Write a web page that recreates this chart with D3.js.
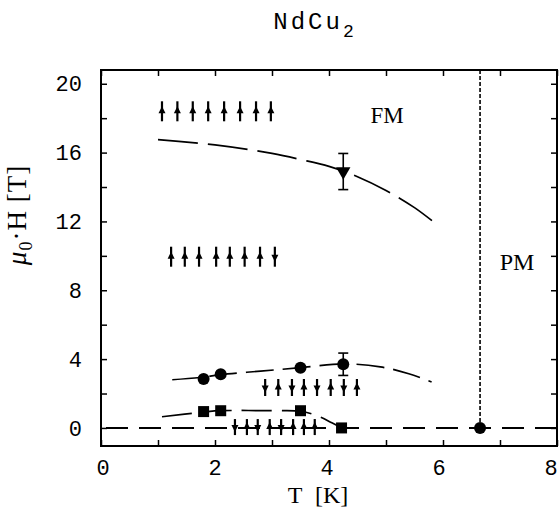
<!DOCTYPE html>
<html>
<head>
<meta charset="utf-8">
<script src="https://cdn.jsdelivr.net/npm/d3@7"></script>
<style>
body { margin: 0; background: #fff; }
svg { display: block; }
</style>
</head>
<body>
<script>
// data
var xTicks = [0, 2, 4, 6, 8];
var yTicks = [0, 4, 8, 12, 16, 20];

var triT = [4.25], triH = [14.9], triErr = [1.05];
var circT = [1.8, 2.1, 3.5, 4.25], circH = [2.85, 3.12, 3.5, 3.7], circErr = [0, 0, 0, 0.65];
var sqT = [1.8, 2.1, 3.5, 4.22], sqH = [0.95, 1.0, 1.0, 0.0];
var tcT = [6.65], tcH = [0];

var upperT = [1.0, 2.0, 3.0, 3.5, 4.0, 4.5, 5.0, 5.5, 5.9];
var upperH = [16.75, 16.45, 15.95, 15.6, 15.2, 14.6, 13.8, 12.8, 11.8];
var middleT = [1.25, 1.8, 2.1, 2.8, 3.5, 4.25, 4.9, 5.4, 5.8];
var middleH = [2.8, 2.95, 3.1, 3.3, 3.5, 3.72, 3.55, 3.15, 2.67];
var lowerT = [1.07, 1.8, 2.1, 3.0, 3.5, 3.8, 4.05, 4.22];
var lowerH = [0.65, 0.92, 1.0, 1.0, 0.97, 0.7, 0.3, 0.0];
var zeroT = [0, 8], zeroH = [0, 0];

var row1T = [1.07, 1.34, 1.61, 1.88, 2.16, 2.44, 2.72, 2.98], row1H = 18.4, row1Dir = [1,1,1,1,1,1,1,1];
var row2T = [1.23, 1.47, 1.72, 2.02, 2.26, 2.52, 2.79, 3.05], row2H = 9.95, row2Dir = [1,1,1,1,1,1,1,-1];
var row3T = [2.88, 3.11, 3.35, 3.56, 3.79, 4.03, 4.26, 4.49], row3H = 2.35, row3Dir = [-1,1,-1,1,-1,1,-1,1];
var row4T = [2.35, 2.56, 2.75, 2.96, 3.16, 3.37, 3.56, 3.75], row4H = 0.05, row4Dir = [-1,1,-1,1,-1,1,1,1];

var W = 559, H = 512;
var pL = 101, pR = 557, pT = 70, pB = 446;

var x = d3.scaleLinear().domain([0, 8]).range([pL, pR]);
var y = d3.scaleLinear().domain([-1.05, 20.8]).range([pB, pT]);

var svg = d3.select('body').append('svg')
    .attr('width', W).attr('height', H);

var serif = '"Liberation Serif", "DejaVu Serif", serif';
var mono = '"Liberation Mono", "DejaVu Sans Mono", monospace';

// frame
svg.append('rect')
    .attr('x', pL).attr('y', pT)
    .attr('width', pR - pL).attr('height', pB - pT)
    .attr('fill', 'none').attr('stroke', '#000').attr('stroke-width', 2);

// axes, ticks inward
var xMinor = d3.range(0, 8.01, 1);
var yMinor = d3.range(0, 20.01, 2);
svg.append('g').attr('transform', 'translate(0,' + pB + ')')
    .call(d3.axisBottom(x).tickValues(xMinor).tickSize(-6).tickFormat(''))
    .call(function(g){ g.select('.domain').remove(); });
svg.append('g').attr('transform', 'translate(0,' + pT + ')')
    .call(d3.axisTop(x).tickValues(xMinor).tickSize(-6).tickFormat(''))
    .call(function(g){ g.select('.domain').remove(); });
svg.append('g').attr('transform', 'translate(' + pL + ',0)')
    .call(d3.axisLeft(y).tickValues(yMinor).tickSize(-6).tickFormat(''))
    .call(function(g){ g.select('.domain').remove(); });
svg.append('g').attr('transform', 'translate(' + pR + ',0)')
    .call(d3.axisRight(y).tickValues(yMinor).tickSize(-6).tickFormat(''))
    .call(function(g){ g.select('.domain').remove(); });
svg.selectAll('.tick line').attr('stroke-width', 1.5);

// tick labels
svg.selectAll('text.xt')
    .data(xTicks)
    .enter().append('text')
    .attr('class', 'xt')
    .attr('x', function(d){ return x(d) + 2 - d; })
    .attr('y', 475)
    .attr('text-anchor', 'middle')
    .attr('font-family', mono).attr('font-size', 22)
    .text(function(d){ return d; });

svg.selectAll('text.yt')
    .data(yTicks)
    .enter().append('text')
    .attr('class', 'yt')
    .attr('x', 82)
    .attr('y', function(d){ return y(d); })
    .attr('dy', '0.35em')
    .attr('text-anchor', 'end')
    .attr('font-family', mono).attr('font-size', 22)
    .text(function(d){ return d; });

// title
var title = svg.append('text')
    .attr('x', 315).attr('y', 29)
    .attr('text-anchor', 'middle')
    .attr('font-family', mono).attr('font-size', 24)
    .attr('letter-spacing', 3);
title.append('tspan').text('NdCu');
title.append('tspan').attr('dy', 8).attr('font-size', 18).text('2');

// axis titles
svg.append('text')
    .attr('x', 318).attr('y', 503)
    .attr('text-anchor', 'middle')
    .attr('font-family', serif).attr('font-size', 24)
    .attr('word-spacing', 7)
    .text('T [K]');

var yl = svg.append('text')
    .attr('transform', 'translate(26,215) rotate(-90)')
    .attr('text-anchor', 'middle')
    .attr('font-family', serif).attr('font-size', 27)
    .attr('letter-spacing', 1);
yl.append('tspan').attr('font-style', 'italic').text('μ');
yl.append('tspan').attr('dy', 6).attr('font-size', 18).text('0');
yl.append('tspan').attr('dy', -6).text('·H [T]');

// region labels
svg.append('text').attr('x', 387).attr('y', 123)
    .attr('text-anchor', 'middle')
    .attr('font-family', serif).attr('font-size', 23)
    .text('FM');
svg.append('text').attr('x', 517).attr('y', 270)
    .attr('text-anchor', 'middle')
    .attr('font-family', serif).attr('font-size', 24)
    .text('PM');

// dashed phase lines
var line = d3.line()
    .x(function(d){ return x(d[0]); })
    .y(function(d){ return y(d[1]); })
    .curve(d3.curveCatmullRom);

function pairs(ts, hs){ return ts.map(function(t, i){ return [t, hs[i]]; }); }

svg.append('path').datum(pairs(upperT, upperH))
    .attr('d', line).attr('fill', 'none').attr('stroke', '#000')
    .attr('stroke-width', 1.7).attr('stroke-dasharray', '40,10');
svg.append('path').datum(pairs(middleT, middleH))
    .attr('d', line).attr('fill', 'none').attr('stroke', '#000')
    .attr('stroke-width', 1.7).attr('stroke-dasharray', '28,9');
svg.append('path').datum(pairs(lowerT, lowerH))
    .attr('d', line).attr('fill', 'none').attr('stroke', '#000')
    .attr('stroke-width', 1.7).attr('stroke-dasharray', '30,10');
svg.append('path').datum(pairs(zeroT, zeroH))
    .attr('d', line).attr('fill', 'none').attr('stroke', '#000')
    .attr('stroke-width', 2).attr('stroke-dasharray', '22,11')
    .attr('stroke-dashoffset', -5);

// vertical dotted line at Tc
svg.append('line')
    .attr('x1', x(tcT[0])).attr('x2', x(tcT[0]))
    .attr('y1', y(tcH[0])).attr('y2', y(20.8))
    .attr('stroke', '#000').attr('stroke-width', 1.6)
    .attr('stroke-dasharray', '4,2');

// error bars
function errorBars(ts, hs, es){
    var g = svg.append('g');
    ts.forEach(function(t, i){
        if (!es[i]) return;
        var cx = x(t);
        g.append('line').attr('x1', cx).attr('x2', cx)
            .attr('y1', y(hs[i] - es[i])).attr('y2', y(hs[i] + es[i]))
            .attr('stroke', '#000').attr('stroke-width', 1.6);
        [hs[i] - es[i], hs[i] + es[i]].forEach(function(v){
            g.append('line').attr('x1', cx - 5).attr('x2', cx + 5)
                .attr('y1', y(v)).attr('y2', y(v))
                .attr('stroke', '#000').attr('stroke-width', 1.6);
        });
    });
}
errorBars(triT, triH, triErr);
errorBars(circT, circH, circErr);

// markers
svg.selectAll('path.tri')
    .data(pairs(triT, triH))
    .enter().append('path')
    .attr('class', 'tri')
    .attr('d', d3.symbol().type(d3.symbolTriangle).size(90))
    .attr('transform', function(d){ return 'translate(' + x(d[0]) + ',' + y(d[1]) + ') rotate(180)'; })
    .attr('fill', '#000');

svg.selectAll('circle.c')
    .data(pairs(circT, circH))
    .enter().append('circle')
    .attr('class', 'c')
    .attr('cx', function(d){ return x(d[0]); })
    .attr('cy', function(d){ return y(d[1]); })
    .attr('r', 6).attr('fill', '#000');

svg.selectAll('rect.sq')
    .data(pairs(sqT, sqH))
    .enter().append('rect')
    .attr('class', 'sq')
    .attr('x', function(d){ return x(d[0]) - 5.5; })
    .attr('y', function(d){ return y(d[1]) - 5.5; })
    .attr('width', 11).attr('height', 11).attr('fill', '#000');

svg.selectAll('circle.tc')
    .data(pairs(tcT, tcH))
    .enter().append('circle')
    .attr('class', 'tc')
    .attr('cx', function(d){ return x(d[0]); })
    .attr('cy', function(d){ return y(d[1]); })
    .attr('r', 6).attr('fill', '#000');

// spin arrows
function arrows(ts, h, dirs, len){
    var g = svg.append('g');
    ts.forEach(function(t, i){
        var cx = x(t), cy = y(h), d = dirs[i];
        g.append('line').attr('x1', cx).attr('x2', cx)
            .attr('y1', cy - len / 2).attr('y2', cy + len / 2)
            .attr('stroke', '#000').attr('stroke-width', 2.2);
        var tip = cy - d * 5, base = cy + d * 2;
        g.append('path')
            .attr('d', 'M' + cx + ',' + tip + 'L' + (cx - 3.5) + ',' + base + 'L' + (cx + 3.5) + ',' + base + 'Z')
            .attr('fill', '#000');
    });
}
arrows(row1T, row1H, row1Dir, 20);
arrows(row2T, row2H, row2Dir, 20);
arrows(row3T, row3H, row3Dir, 17);
arrows(row4T, row4H, row4Dir, 16);
</script>
</body>
</html>
